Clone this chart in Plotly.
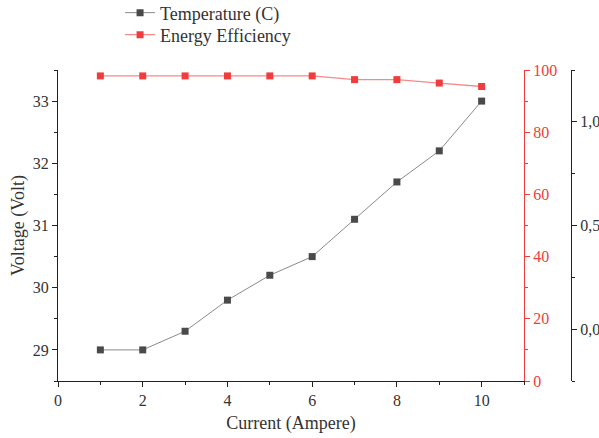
import plotly.graph_objects as go

current = [1, 2, 3, 4, 5, 6, 7, 8, 9, 10]
voltage = [29.0, 29.0, 29.3, 29.8, 30.2, 30.5, 31.1, 31.7, 32.2, 33.0]
efficiency = [98.1, 98.1, 98.1, 98.1, 98.1, 98.1, 96.9, 96.9, 95.8, 94.7]

red = "#f03c3c"
font = "Liberation Serif"
txt = "#333"

fig = go.Figure()
fig.add_trace(go.Scatter(
    x=current, y=voltage, name="Temperature (C)", mode="lines+markers",
    line=dict(color="#8a8a8a", width=1),
    marker=dict(symbol="square", size=7, color="#4a4a4a"),
    yaxis="y", legend="legend"))
fig.add_trace(go.Scatter(
    x=current, y=efficiency, name="Energy Efficiency", mode="lines+markers",
    line=dict(color="#f58a8a", width=1.3),
    marker=dict(symbol="square", size=7, color=red),
    yaxis="y2", legend="legend2"))
fig.add_trace(go.Scatter(
    x=[None], y=[None], showlegend=False, yaxis="y3", hoverinfo="skip"))

xd = 466 / 513
leg = dict(xanchor="left", yanchor="top",
           font=dict(size=18, family=font, color=txt),
           bgcolor="rgba(0,0,0,0)")
fig.update_layout(
    width=599, height=438,
    margin=dict(l=58, r=28, t=70, b=57, autoexpand=False),
    paper_bgcolor="white", plot_bgcolor="white",
    font=dict(family=font, size=16, color=txt),
    separators=",.",
    showlegend=True,
    legend=dict(x=0.121, y=1.243, **leg),
    legend2=dict(x=0.121, y=1.172, **leg),
    xaxis=dict(domain=[0, xd], range=[0, 11], dtick=2, tick0=0,
               showline=True, linecolor="#222", linewidth=1.2,
               ticks="outside", ticklen=5, tickcolor="#222",
               minor=dict(dtick=1, ticklen=3, ticks="outside", tickcolor="#222"),
               showgrid=False, zeroline=False,
               title=dict(text="Current (Ampere)", font=dict(size=18), standoff=8),
               tickfont=dict(size=16)),
    yaxis=dict(range=[28.5, 33.5], dtick=1, tick0=29,
               showline=True, linecolor="#222", linewidth=1.2,
               ticks="outside", ticklen=5, tickcolor="#222",
               minor=dict(dtick=0.5, ticklen=3, ticks="outside", tickcolor="#222"),
               showgrid=False, zeroline=False,
               title=dict(text="Voltage (Volt)", font=dict(size=18), standoff=3),
               tickfont=dict(size=16)),
    yaxis2=dict(range=[0, 100], dtick=20, tick0=0, overlaying="y", side="right",
                anchor="x",
                showline=True, linecolor=red, linewidth=1.2,
                ticks="outside", ticklen=5, tickcolor=red,
                minor=dict(dtick=10, ticklen=3, ticks="outside", tickcolor=red),
                showgrid=False, zeroline=False,
                tickfont=dict(size=16, color=red)),
    yaxis3=dict(range=[-0.25, 1.25], dtick=0.5, tick0=0, overlaying="y", side="right",
                anchor="free", position=1, tickformat=".1f",
                showline=True, linecolor="#222", linewidth=1.2,
                ticks="outside", ticklen=5, tickcolor="#222",
                minor=dict(dtick=0.25, ticklen=3, ticks="outside", tickcolor="#222"),
                showgrid=False, zeroline=False,
                tickfont=dict(size=16)),
)

fig.write_html("out.html")
